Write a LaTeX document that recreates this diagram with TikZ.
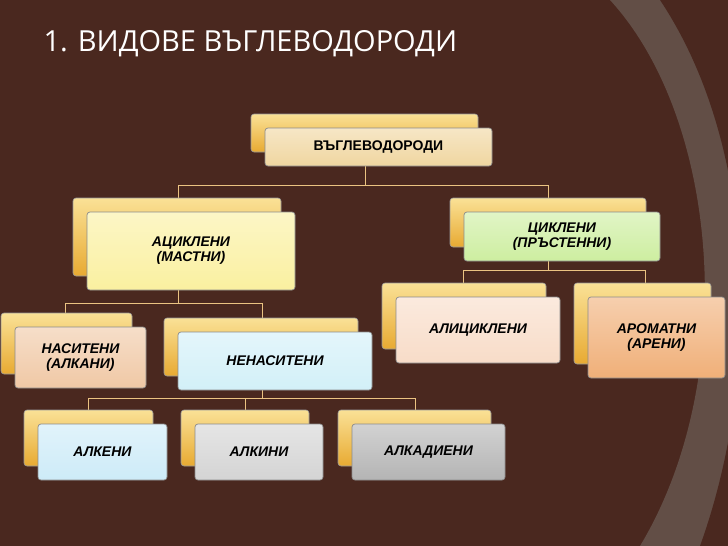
\documentclass[tikz,border=0pt]{standalone}
\usepackage{fontspec}
\setmainfont{Liberation Sans}
\newfontfamily\titlefont{Open Sans}
\definecolor{bgc}{RGB}{74,40,31}
\definecolor{band}{RGB}{98,78,70}
\definecolor{c1}{RGB}{240,214,160}
\definecolor{c2}{RGB}{250,240,160}
\definecolor{c3}{RGB}{205,238,160}
\definecolor{c4}{RGB}{240,200,165}
\definecolor{c5}{RGB}{210,240,248}
\definecolor{c6}{RGB}{248,220,200}
\definecolor{c7}{RGB}{240,175,120}
\definecolor{c8}{RGB}{205,235,248}
\definecolor{c9}{RGB}{212,212,212}
\definecolor{c10}{RGB}{180,180,180}
\definecolor{gold}{RGB}{232,170,50}
\definecolor{goldl}{RGB}{250,225,150}
\definecolor{linec}{RGB}{235,195,130}
\newcommand{\mybox}[7]{%
 \draw[back] (#1-14,#2-14) rectangle (#3-14,#4-14);
 \draw[front,top color=#5!60!white,bottom color=#5] (#1,#2) rectangle (#3,#4);
 \node[lbl] (#6) at ({(#1+#3)/2},{(#2+#4)/2}) {#7};}
\begin{document}
\begin{tikzpicture}[x=1pt,y=-1pt,
 back/.style={draw=black!40,line width=0.6pt,rounded corners=3pt,top color=goldl,bottom color=gold},
 front/.style={draw=black!45,line width=0.7pt,rounded corners=3pt},
 lbl/.style={font=\bfseries\itshape\fontsize{14}{15}\selectfont,align=center,text=black},
 conn/.style={draw=linec,line width=0.8pt}]
\useasboundingbox (0,0) rectangle (728,546);
\fill[bgc] (0,0) rectangle (728,546);
\fill[band] (610,0) .. controls (720,120) and (740,380) .. (640,546) -- (728,546) -- (728,0) -- cycle;
\fill[bgc] (660,0) .. controls (760,150) and (760,380) .. (700,546) -- (728,546) -- (728,0) -- cycle;
\node[anchor=west,text=white,font=\titlefont\fontsize{29}{30}\selectfont] (title) at (40,44) {1. ВИДОВЕ ВЪГЛЕВОДОРОДИ};
\draw[conn] (365,166) |- (178,185) -- (178,198);
\draw[conn] (365,185) -| (548,198);
\draw[conn] (178,290) |- (65,303) -- (65,313);
\draw[conn] (178,303) -| (262,318);
\draw[conn] (548,261) |- (463,270) -- (463,284);
\draw[conn] (548,270) -| (645,284);
\draw[conn] (262,390) |- (88,398) -- (88,410);
\draw[conn] (262,398) -| (415,410);
\draw[conn] (245,398) -- (245,410);
\mybox{265}{128}{492}{166}{c1}{top}{\upshape ВЪГЛЕВОДОРОДИ}
\mybox{87}{212}{295}{290}{c2}{acyc}{АЦИКЛЕНИ\\(МАСТНИ)}
\mybox{464}{212}{660}{261}{c3}{cyc}{ЦИКЛЕНИ\\(ПРЪСТЕННИ)}
\mybox{15}{327}{146}{388}{c4}{sat}{НАСИТЕНИ\\(АЛКАНИ)}
\mybox{178}{332}{372}{390}{c5}{unsat}{НЕНАСИТЕНИ}
\mybox{396}{297}{560}{363}{c6}{alicyc}{АЛИЦИКЛЕНИ}
\mybox{588}{297}{725}{378}{c7}{arom}{АРОМАТНИ\\(АРЕНИ)}
\mybox{38}{424}{167}{480}{c8}{alkenes}{АЛКЕНИ}
\mybox{195}{424}{323}{480}{c9}{alkynes}{АЛКИНИ}
\mybox{352}{424}{505}{480}{c10}{dienes}{АЛКАДИЕНИ}
\end{tikzpicture}
\end{document}
